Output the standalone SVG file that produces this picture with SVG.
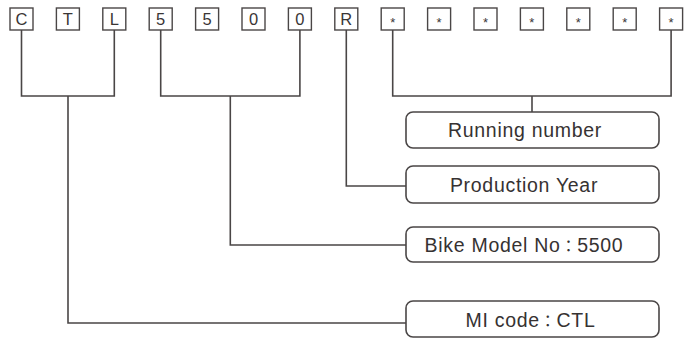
<svg xmlns="http://www.w3.org/2000/svg" width="685" height="338" viewBox="0 0 685 338">
<style>
.ch{fill:#fff;stroke:#4a4646;stroke-width:1.4}
.cl{font-family:"Liberation Sans",Arial,sans-serif;font-size:16.5px;fill:#3a3636;text-anchor:middle}
.st{font-family:"Liberation Sans",Arial,sans-serif;font-size:13px;fill:#3a3636;text-anchor:middle}
.lb{fill:#fff;stroke:#4a4646;stroke-width:1.6}
.lt{font-family:"Liberation Sans","Noto Sans CJK TC",Arial,sans-serif;font-size:19.5px;letter-spacing:0.7px;fill:#363232;text-anchor:middle}
.cc{font-size:16px;font-family:"Noto Sans CJK TC","Liberation Sans",sans-serif}
.cn{fill:none;stroke:#4a4646;stroke-width:1.6}
</style>
<g id="connectors">
<path class="cn" d="M21.5 30 V96 H114.3 V30 M68 96 V323 H406"/>
<path class="cn" d="M160.7 30 V96 H299.9 V30 M230.3 96 V245 H406"/>
<path class="cn" d="M346.3 30 V186 H406"/>
<path class="cn" d="M392.7 30 V96 H671.1 V30 M532 96 V112"/>
</g>
<g id="char-C"><rect class="ch" x="10" y="8" width="23" height="22"/><text class="cl" x="21.5" y="25">C</text></g>
<g id="char-T"><rect class="ch" x="56.4" y="8" width="23" height="22"/><text class="cl" x="67.9" y="25">T</text></g>
<g id="char-L"><rect class="ch" x="102.8" y="8" width="23" height="22"/><text class="cl" x="114.3" y="25">L</text></g>
<g id="char-5a"><rect class="ch" x="149.2" y="8" width="23" height="22"/><text class="cl" x="160.7" y="25">5</text></g>
<g id="char-5b"><rect class="ch" x="195.6" y="8" width="23" height="22"/><text class="cl" x="207.1" y="25">5</text></g>
<g id="char-0a"><rect class="ch" x="242" y="8" width="23" height="22"/><text class="cl" x="253.5" y="25">0</text></g>
<g id="char-0b"><rect class="ch" x="288.4" y="8" width="23" height="22"/><text class="cl" x="299.9" y="25">0</text></g>
<g id="char-R"><rect class="ch" x="334.8" y="8" width="23" height="22"/><text class="cl" x="346.3" y="25">R</text></g>
<g id="char-s1"><rect class="ch" x="381.2" y="8" width="23" height="22"/><text class="st" x="392.7" y="26.5">*</text></g>
<g id="char-s2"><rect class="ch" x="427.6" y="8" width="23" height="22"/><text class="st" x="439.1" y="26.5">*</text></g>
<g id="char-s3"><rect class="ch" x="474" y="8" width="23" height="22"/><text class="st" x="485.5" y="26.5">*</text></g>
<g id="char-s4"><rect class="ch" x="520.4" y="8" width="23" height="22"/><text class="st" x="531.9" y="26.5">*</text></g>
<g id="char-s5"><rect class="ch" x="566.8" y="8" width="23" height="22"/><text class="st" x="578.3" y="26.5">*</text></g>
<g id="char-s6"><rect class="ch" x="613.2" y="8" width="23" height="22"/><text class="st" x="624.7" y="26.5">*</text></g>
<g id="char-s7"><rect class="ch" x="659.6" y="8" width="23" height="22"/><text class="st" x="671.1" y="26.5">*</text></g>
<g id="label-running"><rect class="lb" x="406" y="112" width="253" height="36" rx="7"/><text class="lt" x="525" y="137">Running number</text></g>
<g id="label-year"><rect class="lb" x="406" y="166" width="253" height="37" rx="7"/><text class="lt" x="524" y="192">Production Year</text></g>
<g id="label-model"><rect class="lb" x="406" y="227" width="253" height="35" rx="7"/><text class="lt" x="524" y="252">Bike Model No<tspan class="cc">：</tspan>5500</text></g>
<g id="label-mi"><rect class="lb" x="406" y="301" width="253" height="36" rx="7"/><text class="lt" x="530.5" y="327">MI code<tspan class="cc">：</tspan>CTL</text></g>
</svg>
